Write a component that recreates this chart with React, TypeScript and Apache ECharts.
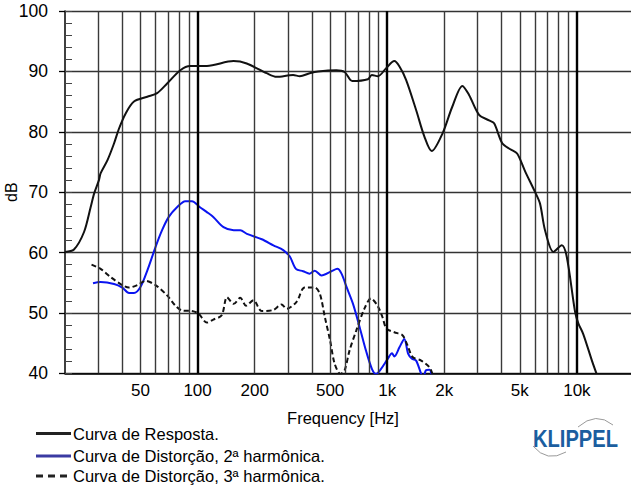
import React, { useEffect, useRef } from "react";
import * as echarts from "echarts";

// ---- Data ----
const respFreq = [20, 22.3, 25.2, 27.3, 28.5, 30.2, 30.8, 33.5, 36.3, 38.5, 41.7, 46.2, 54.3, 61.2, 69.1, 81.1, 91.5, 112, 154.6, 181.6, 231, 261, 319, 346, 390, 432, 539, 596, 654, 791, 829, 893, 985, 1090, 1160, 1257, 1420, 1570, 1716, 1955, 2200, 2490, 2700, 3050, 3440, 3660, 4040, 4460, 4840, 5340, 6020, 6390, 6790, 7520, 8320, 8840, 9790, 10200, 10800, 12000, 12700];
const respDb = [60.1, 60.5, 63.4, 67.5, 69.8, 72.0, 73.1, 75.3, 78.1, 80.5, 83.0, 85.0, 85.8, 86.4, 88.0, 90.2, 90.9, 90.9, 91.7, 91.3, 89.7, 89.1, 89.4, 89.2, 89.7, 90.0, 90.2, 89.9, 88.4, 88.7, 89.4, 89.2, 90.5, 91.7, 90.8, 88.6, 83.6, 79.2, 76.8, 79.7, 84.1, 87.6, 86.1, 82.8, 81.9, 81.4, 78.1, 77.1, 76.4, 73.4, 70.0, 68.1, 63.7, 60.1, 61.2, 59.3, 50.1, 48.2, 46.5, 42.1, 39.9];

const h2Freq = [28.1, 30.8, 36.3, 40.1, 43.5, 46.2, 50, 54.3, 60, 65, 70.5, 77.9, 86.2, 93.4, 103, 112, 121, 137, 155, 168, 182, 218, 251, 283, 307, 330, 360, 390, 415, 450, 508, 546, 574, 610, 660, 716, 772, 831, 873, 926, 1006, 1060, 1090, 1160, 1230, 1290, 1350, 1420, 1510, 1550, 1600, 1670, 1716];
const h2Db = [54.9, 55.1, 54.8, 54.2, 53.3, 53.3, 54.3, 57.0, 60.9, 63.7, 65.9, 67.5, 68.5, 68.5, 67.5, 66.7, 65.9, 64.2, 63.7, 63.7, 63.1, 62.2, 61.2, 60.4, 59.3, 57.3, 56.9, 56.5, 57.0, 56.2, 56.9, 57.3, 56.5, 54.3, 51.5, 47.6, 43.8, 40.7, 39.9, 40.7, 42.4, 43.3, 42.8, 44.3, 45.7, 43.2, 42.4, 42.1, 39.9, 39.3, 40.5, 40.6, 39.5];

const h3Freq = [27.6, 30.8, 34.9, 40.1, 43.5, 48.1, 53.2, 60, 69.1, 76.4, 82.8, 93.4, 101, 112, 121, 134, 143, 155, 168, 180, 197, 218, 251, 277, 295, 332, 367, 415, 441, 469, 500, 528, 567, 596, 633, 687, 758, 820, 889, 944, 991, 1090, 1203, 1280, 1360, 1510, 1670, 1730];
const h3Db = [58.0, 57.3, 55.9, 54.6, 54.2, 54.6, 55.3, 54.6, 52.9, 51.2, 50.4, 50.3, 49.9, 48.4, 48.9, 49.6, 52.6, 51.5, 52.5, 51.2, 52.1, 50.3, 50.5, 51.4, 50.7, 51.8, 54.2, 54.2, 53.2, 49.3, 45.4, 41.6, 39.9, 40.5, 43.8, 47.1, 50.7, 52.4, 51.2, 49.3, 47.4, 46.8, 46.3, 44.6, 42.7, 42.1, 41.0, 39.9];

const gridFreqs = [30, 40, 50, 60, 70, 80, 90, 100, 200, 300, 400, 500, 600, 700, 800, 900, 1000, 2000, 3000, 4000, 5000, 6000, 7000, 8000, 9000, 10000];
const decadeFreqs = [100, 1000, 10000];
const xTickValues = [50, 100, 200, 500, 1000, 2000, 5000, 10000];
const xTickLabels = ["50", "100", "200", "500", "1k", "2k", "5k", "10k"];

const legendNames = [
  "Curva de Resposta.",
  "Curva de Distorção, 2ª harmônica.",
  "Curva de Distorção, 3ª harmônica.",
];

const FONT = "'Liberation Sans', Arial, sans-serif";

export default function App() {
  const ref = useRef<HTMLDivElement>(null);

  useEffect(() => {
    document.body.style.margin = "0";
    const chart = echarts.init(ref.current!, null, { renderer: "svg" });

    const toPairs = (f: number[], d: number[]) => f.map((v, i) => [v, d[i]]);

    const markData = gridFreqs.map((f) => {
      const isDecade = decadeFreqs.includes(f);
      const li = xTickValues.indexOf(f);
      return {
        xAxis: f,
        lineStyle: {
          color: isDecade ? "#000" : "#3a3a3a",
          width: isDecade ? 2.4 : 1.4,
          type: "solid",
        },
        label: {
          show: li >= 0,
          formatter: li >= 0 ? xTickLabels[li] : "",
          position: "start",
          distance: 9,
          color: "#000",
          fontSize: 17,
          fontFamily: FONT,
        },
      };
    });

    const option: any = {
      animation: false,
      backgroundColor: "#fff",
      grid: { left: 65, top: 11, right: -3, bottom: 112.7, containLabel: false, outerBoundsMode: "none" },
      xAxis: {
        type: "log",
        logBase: 10,
        min: 20,
        max: 20000,
        name: "Frequency [Hz]",
        nameLocation: "middle",
        nameGap: 36,
        nameMoveOverlap: false,
        nameTextStyle: { fontSize: 16.5, color: "#000", fontFamily: FONT, padding: [0, 13, 0, 0] },
        axisLine: { show: true, lineStyle: { color: "#000", width: 1.5 } },
        axisTick: { show: false },
        axisLabel: { show: false },
        splitLine: { show: false },
        minorTick: { show: false },
        minorSplitLine: { show: false },
      },
      yAxis: [
        {
          type: "value",
          min: 40,
          max: 100,
          interval: 10,
          name: "dB",
          nameLocation: "middle",
          nameRotate: 90,
          nameGap: 46,
          nameMoveOverlap: false,
          nameTextStyle: { fontSize: 16, color: "#000", fontFamily: FONT },
          axisLine: { show: true, lineStyle: { color: "#000", width: 1.5 } },
          axisTick: { show: true, length: 6, inside: false, lineStyle: { color: "#000", width: 1.3 } },
          axisLabel: { color: "#000", fontSize: 17.5, fontFamily: FONT, margin: 17 },
          splitLine: { show: true, lineStyle: { color: "#333", width: 1.3 } },
        },
        {
          type: "value",
          min: 40,
          max: 100,
          interval: 2,
          position: "left",
          axisLine: { show: false },
          axisTick: { show: true, length: 7, inside: true, lineStyle: { color: "#444", width: 1 } },
          axisLabel: { show: false },
          splitLine: { show: false },
        },
      ],
      series: [
        {
          type: "line",
          data: [[20, 40]],
          symbol: "none",
          lineStyle: { opacity: 0 },
          silent: true,
          z: 1,
          markLine: {
            silent: true,
            symbol: ["none", "none"],
            animation: false,
            data: markData,
          },
        },
        {
          name: legendNames[0],
          type: "line",
          data: toPairs(respFreq, respDb),
          symbol: "none",
          smooth: 0.3,
          clip: true,
          z: 5,
          lineStyle: { color: "#111", width: 2 },
        },
        {
          name: legendNames[1],
          type: "line",
          data: toPairs(h2Freq, h2Db),
          symbol: "none",
          smooth: 0.3,
          clip: true,
          z: 4,
          lineStyle: { color: "#0a14f0", width: 2 },
        },
        {
          name: legendNames[2],
          type: "line",
          data: toPairs(h3Freq, h3Db),
          symbol: "none",
          smooth: 0.3,
          clip: true,
          z: 4,
          lineStyle: { color: "#111", width: 2, type: [5, 3] },
        },
      ],
      graphic: [
        { type: "line", shape: { x1: 36, y1: 433.5, x2: 71, y2: 433.5 }, style: { stroke: "#222", lineWidth: 3 } },
        { type: "line", shape: { x1: 36, y1: 456, x2: 71, y2: 456 }, style: { stroke: "#3a3aa2", lineWidth: 3 } },
        { type: "line", shape: { x1: 36, y1: 476, x2: 71, y2: 476 }, style: { stroke: "#222", lineWidth: 3, lineDash: [7, 5] } },
        { type: "text", x: 73, y: 433.5, style: { text: legendNames[0], fontSize: 16.5, fontFamily: FONT, fill: "#000", textVerticalAlign: "middle" } },
        { type: "text", x: 73, y: 456, style: { text: legendNames[1], fontSize: 16.5, fontFamily: FONT, fill: "#000", textVerticalAlign: "middle" } },
        { type: "text", x: 73, y: 476, style: { text: legendNames[2], fontSize: 16.5, fontFamily: FONT, fill: "#000", textVerticalAlign: "middle" } },
        { type: "bezierCurve", shape: { x1: 578, y1: 427, cpx1: 596, cpy1: 411, x2: 613, y2: 425 }, style: { stroke: "#9a9a9a", lineWidth: 1, fill: "none" } },
        { type: "bezierCurve", shape: { x1: 533, y1: 446, cpx1: 547, cpy1: 463, x2: 566, y2: 452 }, style: { stroke: "#9a9a9a", lineWidth: 1, fill: "none" } },
        { type: "text", x: 533, y: 439, scaleX: 0.875, style: { text: "KLIPPEL", fontSize: 23, fontWeight: "bold", fontFamily: FONT, fill: "#1b5e9f", textVerticalAlign: "middle" } },
      ],
    };

    chart.setOption(option);
    return () => chart.dispose();
  }, []);

  return <div ref={ref} style={{ width: 631, height: 486 }} />;
}
